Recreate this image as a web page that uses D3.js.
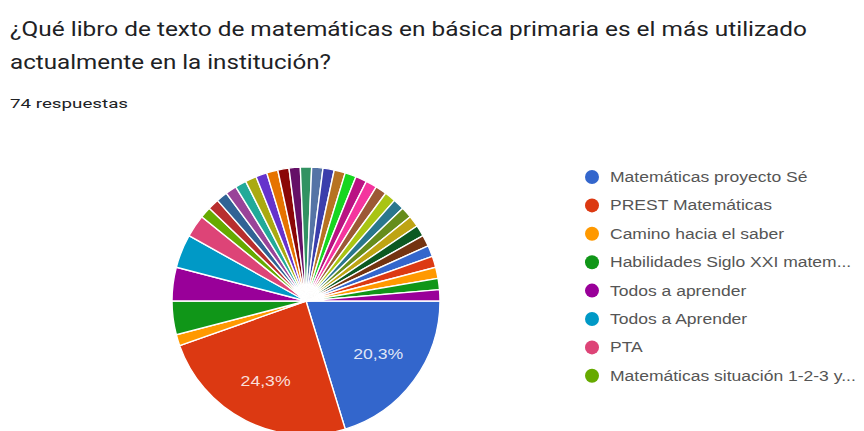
<!DOCTYPE html>
<html>
<head>
<meta charset="utf-8">
<script src="https://cdn.jsdelivr.net/npm/d3@7"></script>
<style>
  body { margin: 0; background: #fff; }
  svg { display: block; }
</style>
</head>
<body>
<div id="chart"></div>
<script>
// Respuestas por libro (orden de la leyenda de Google Forms, 74 en total)
var values = [15, 18, 1, 3, 3, 3, 2,
    1, 1, 1, 1, 1, 1, 1, 1, 1, 1, 1, 1, 1, 1, 1, 1, 1, 1, 1, 1, 1, 1, 1, 1,
    1, 1, 1, 1, 1];

// Only the first page of the legend is visible in the picture
var legendLabels = [
    "Matemáticas proyecto Sé",
    "PREST Matemáticas",
    "Camino hacia el saber",
    "Habilidades Siglo XXI matem...",
    "Todos a aprender",
    "Todos a Aprender",
    "PTA",
    "Matemáticas situación 1-2-3 y..."
];

var titleLines = [
    "¿Qué libro de texto de matemáticas en básica primaria es el más utilizado",
    "actualmente en la institución?"
];
var subtitle = "74 respuestas";

// Google charts default palette
var palette = ["#3366cc","#dc3912","#ff9900","#109618","#990099","#0099c6","#dd4477",
    "#66aa00","#b82e2e","#316395","#994499","#22aa99","#aaaa11","#6633cc","#e67300",
    "#8b0707","#651067","#329262","#5574a6","#3b3eac","#b77322","#16d620","#b91383",
    "#f4359e","#9c5935","#a9c413","#2a778d","#668d1c","#bea413","#0c5922","#743411"];

var width = 864, height = 431;
var cx = 306, cy = 301, radius = 134;

var svg = d3.select("#chart")
    .append("svg")
    .attr("width", width)
    .attr("height", height);

/**
 * Title block
 */
var titleWidths = [797, 321];
svg.selectAll(".title")
    .data(titleLines)
    .enter()
    .append("text")
    .attr("class", "title")
    .attr("x", 10)
    .attr("y", function(d, i) { return 36 + i * 33; })
    .attr("textLength", function(d, i) { return titleWidths[i]; })
    .attr("lengthAdjust", "spacingAndGlyphs")
    .style("font-family", "Roboto, sans-serif")
    .style("font-size", "20.5px")
    .style("fill", "#202124")
    .text(function(d) { return d; });

svg.append("text")
    .attr("x", 10)
    .attr("y", 108)
    .attr("textLength", 118)
    .attr("lengthAdjust", "spacingAndGlyphs")
    .style("font-family", "Roboto, sans-serif")
    .style("font-size", "13px")
    .style("fill", "#202124")
    .text(subtitle);

/**
 * Pie
 */
var total = d3.sum(values);
var color = d3.scaleOrdinal().domain(d3.range(values.length)).range(palette);

var pie = d3.pie()
    .sort(null)
    .startAngle(Math.PI / 2)
    .endAngle(Math.PI / 2 + 2 * Math.PI);

var arc = d3.arc().innerRadius(0).outerRadius(radius);
var labelArc = d3.arc().innerRadius(radius * 0.67).outerRadius(radius * 0.67);

var pieG = svg.append("g")
    .attr("transform", "translate(" + cx + "," + cy + ")");

var slices = pie(values);

pieG.selectAll("path")
    .data(slices)
    .enter()
    .append("path")
    .attr("d", arc)
    .attr("fill", function(d, i) { return color(i); })
    .attr("stroke", "#fff")
    .attr("stroke-width", 1.4);

// percentage labels only for the big slices
var fmt = function(v) { return (v * 100).toFixed(1).replace(".", ",") + "%"; };
pieG.selectAll(".pct")
    .data(slices.filter(function(d) { return d.value / total > 0.1; }))
    .enter()
    .append("text")
    .attr("class", "pct")
    .attr("transform", function(d) {
        var c = labelArc.centroid(d);
        return "translate(" + c[0] + "," + (c[1] + 5) + ")";
    })
    .attr("text-anchor", "middle")
    .attr("textLength", 50)
    .attr("lengthAdjust", "spacingAndGlyphs")
    .style("font-family", "Arial, 'Liberation Sans', sans-serif")
    .style("font-size", "14px")
    .style("fill", "#fff")
    .style("fill-opacity", 0.85)
    .text(function(d) { return fmt(d.value / total); });

/**
 * Legend
 */
var legendY = d3.scaleLinear().domain([0, 1]).range([177, 205.4]);
var legendStretch = 1.25;

var legend = svg.append("g").attr("class", "legend");

var rows = legend.selectAll("g")
    .data(legendLabels)
    .enter()
    .append("g")
    .attr("transform", function(d, i) { return "translate(592," + legendY(i) + ")"; });

rows.append("circle")
    .attr("r", 7)
    .attr("fill", function(d, i) { return color(i); });

rows.append("text")
    .attr("x", 18)
    .attr("y", 5)
    .style("font-family", "Arial, 'Liberation Sans', sans-serif")
    .style("font-size", "14px")
    .style("fill", "#555")
    .text(function(d) { return d; })
    .each(function() {
        var w = this.getComputedTextLength();
        d3.select(this)
            .attr("textLength", w * legendStretch)
            .attr("lengthAdjust", "spacingAndGlyphs");
    });
</script>
</body>
</html>
